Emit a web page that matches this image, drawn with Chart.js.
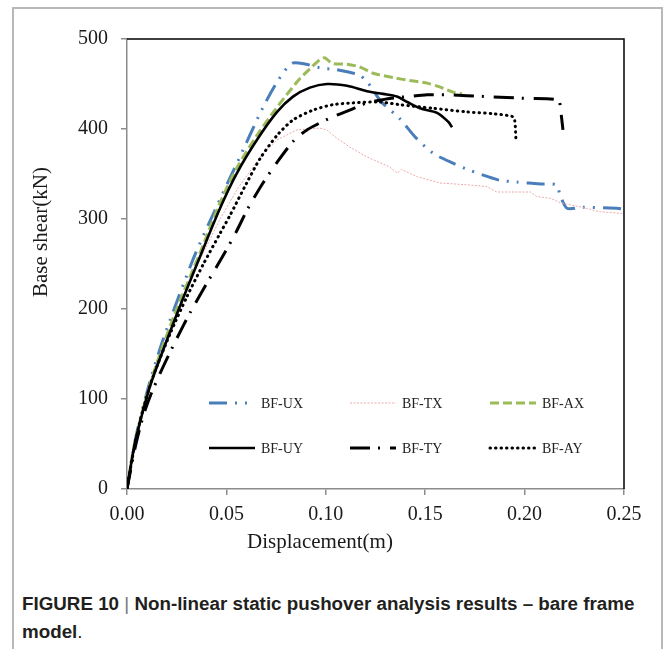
<!DOCTYPE html>
<html>
<head>
<meta charset="utf-8">
<script src="https://cdn.jsdelivr.net/npm/chart.js@4.4.1/dist/chart.umd.min.js"></script>
<style>
  body { margin: 0; background: #fff; }
  #frame { position: absolute; left: 12px; top: 7px; width: 651px; height: 700px; box-sizing: border-box; border: 2px solid #b8b8b8; }
  #chart { position: absolute; left: 0; top: 0; }
  #caption { position: absolute; left: 22px; top: 590px; font: bold 18.8px "Liberation Sans", Arial, sans-serif; color: #231f20; line-height: 28px; white-space: nowrap; }
  #caption .thin { font-weight: normal; color: #777; }
  #caption .reg { font-weight: normal; }
</style>
</head>
<body>
<div id="frame"></div>
<canvas id="chart" width="665" height="560"></canvas>
<div id="caption">FIGURE 10 <span class="thin">|</span> Non-linear static pushover analysis results – bare frame<br>model<span class="reg">.</span></div>
<script>
// Pushover curves: displacement (m) vs base shear (kN)
var seriesNames = ['BF-UX', 'BF-TX', 'BF-AX', 'BF-UY', 'BF-TY', 'BF-AY'];

var uxDisp  = [0, 0.004, 0.0107, 0.0183, 0.0332, 0.0443, 0.0553, 0.0684, 0.076, 0.083, 0.09, 0.097, 0.105, 0.112, 0.117, 0.121, 0.128, 0.137, 0.145, 0.154, 0.164, 0.1725, 0.1815, 0.1876, 0.196, 0.208, 0.216, 0.2178, 0.2213, 0.229, 0.2465, 0.25];
var uxShear = [0, 53, 113, 167, 255, 310, 362, 424, 454, 473, 472, 468, 466, 463, 460, 452, 430, 412, 391, 373, 362, 354, 347, 343, 341, 339, 338, 327, 312, 313, 312, 311];

var txDisp  = [0, 0.004, 0.0107, 0.0183, 0.0267, 0.0367, 0.0468, 0.056, 0.0684, 0.0755, 0.0855, 0.097, 0.1006, 0.1036, 0.112, 0.1207, 0.132, 0.136, 0.138, 0.146, 0.1575, 0.171, 0.181, 0.186, 0.203, 0.206, 0.213, 0.218, 0.229, 0.238, 0.2495];
var txShear = [0, 50, 106, 158, 205, 255, 300, 335, 373, 388, 399, 401, 399, 393, 380, 369, 358, 351, 355, 347, 340, 338, 336, 330, 330, 325, 323, 318, 313, 308, 306];

var axDisp  = [0, 0.004, 0.0107, 0.0166, 0.025, 0.0367, 0.0468, 0.0553, 0.0654, 0.0744, 0.0803, 0.087, 0.093, 0.097, 0.0996, 0.1031, 0.1107, 0.117, 0.1237, 0.134, 0.142, 0.151, 0.157, 0.164, 0.1685];
var axShear = [0, 53, 110, 150, 200, 262, 318, 357, 393, 421, 438, 456, 469, 477, 479, 473, 472, 469, 462, 457, 454, 451, 447, 441, 439];

var uyDisp  = [0, 0.004, 0.0107, 0.0149, 0.0252, 0.0367, 0.0468, 0.0553, 0.0654, 0.0755, 0.0835, 0.092, 0.1006, 0.1107, 0.1207, 0.1288, 0.1358, 0.141, 0.1474, 0.156, 0.1616, 0.1635];
var uyShear = [0, 51, 108, 135, 195, 258, 312, 351, 388, 419, 436, 446, 450, 448, 442, 439, 436, 430, 423, 418, 408, 402];

var tyDisp  = [0, 0.004, 0.008, 0.012, 0.018, 0.025, 0.032, 0.040, 0.048, 0.055, 0.0609, 0.0684, 0.0755, 0.0835, 0.0905, 0.102, 0.112, 0.1207, 0.127, 0.132, 0.141, 0.151, 0.161, 0.181, 0.201, 0.217, 0.218, 0.2193];
var tyShear = [0, 45, 80, 105, 135, 167, 197, 228, 258, 286, 312, 340, 363, 386, 399, 412, 421, 429, 432, 434, 436, 438, 438, 436, 434, 432, 423, 399];

var ayDisp  = [0, 0.004, 0.008, 0.0131, 0.0216, 0.0302, 0.0382, 0.0468, 0.0518, 0.0602, 0.0669, 0.0755, 0.0835, 0.0936, 0.1036, 0.1137, 0.127, 0.1373, 0.154, 0.171, 0.184, 0.1937, 0.195, 0.1957];
var ayShear = [0, 50, 88, 125, 172, 214, 249, 284, 304, 340, 367, 393, 410, 421, 427, 429, 430, 427, 423, 419, 417, 414, 410, 386];

var xTicks = [0, 0.05, 0.10, 0.15, 0.20, 0.25];
var yTicks = [0, 100, 200, 300, 400, 500];

function pts(xs, ys) {
  return xs.map(function (x, i) { return { x: x, y: ys[i] }; });
}

var styles = [
  { color: '#4a7ebb', width: 3,   dash: [18, 8, 2, 8, 2, 8], cap: 'butt',  tension: 0.25 },
  { color: '#eba9a9', width: 1,   dash: [2, 1.5],            cap: 'butt',  tension: 0 },
  { color: '#9bbb59', width: 3,   dash: [9, 4],              cap: 'butt',  tension: 0.25 },
  { color: '#000000', width: 2.6, dash: [],                  cap: 'butt',  tension: 0.3 },
  { color: '#000000', width: 3,   dash: [20, 8, 2, 10],      cap: 'butt',  tension: 0.25 },
  { color: '#000000', width: 3,   dash: [0.5, 5],            cap: 'round', tension: 0.25 }
];

var curves = [pts(uxDisp, uxShear), pts(txDisp, txShear), pts(axDisp, axShear),
              pts(uyDisp, uyShear), pts(tyDisp, tyShear), pts(ayDisp, ayShear)];

var datasets = curves.map(function (data, i) {
  var s = styles[i];
  return {
    label: seriesNames[i],
    data: data,
    showLine: true,
    borderColor: s.color,
    borderWidth: s.width,
    borderDash: s.dash,
    borderCapStyle: s.cap,
    tension: s.tension,
    pointRadius: 0,
    fill: false,
    order: 5 - i
  };
});

var serif = '"Liberation Serif", "Times New Roman", serif';

// plot frame, axis titles and the in-plot legend
var decorations = {
  id: 'decorations',
  afterDraw: function (chart) {
    var ctx = chart.ctx, a = chart.chartArea;
    ctx.save();
    ctx.strokeStyle = '#000';
    ctx.lineWidth = 1.5;
    ctx.beginPath();
    ctx.moveTo(a.left, a.top);
    ctx.lineTo(a.right, a.top);
    ctx.lineTo(a.right, a.bottom);
    ctx.stroke();

    ctx.fillStyle = '#1a1a1a';
    ctx.font = '21px ' + serif;
    ctx.textAlign = 'center';
    ctx.textBaseline = 'alphabetic';
    ctx.fillText('Displacement(m)', 320, 548);
    ctx.save();
    ctx.translate(47, 232);
    ctx.rotate(-Math.PI / 2);
    ctx.fillText('Base shear(kN)', 0, 0);
    ctx.restore();

    // legend: 3 columns x 2 rows
    var cols = [209, 350, 490], rows = [403, 448];
    ctx.font = '14px ' + serif;
    ctx.textAlign = 'left';
    ctx.textBaseline = 'middle';
    chart.data.datasets.forEach(function (ds, i) {
      var x = cols[i % 3], y = rows[Math.floor(i / 3)];
      ctx.save();
      ctx.strokeStyle = ds.borderColor;
      ctx.lineWidth = ds.borderWidth;
      ctx.setLineDash(ds.borderDash);
      ctx.lineCap = ds.borderCapStyle;
      ctx.beginPath();
      ctx.moveTo(x, y);
      ctx.lineTo(x + 46, y);
      ctx.stroke();
      ctx.restore();
      ctx.fillStyle = '#222';
      ctx.fillText(ds.label, x + 52, y + 1);
    });
    ctx.restore();
  }
};

var ctx = document.getElementById('chart').getContext('2d');
var pushoverChart = new Chart(ctx, {
  type: 'scatter',
  data: { datasets: datasets },
  options: {
    responsive: false,
    animation: false,
    devicePixelRatio: 1,
    layout: { padding: { top: 39, right: 41, left: 0, bottom: 0 } },
    plugins: { legend: { display: false }, tooltip: { enabled: false } },
    scales: {
      x: {
        type: 'linear',
        min: 0,
        max: 0.25,
        afterBuildTicks: function (scale) { scale.ticks = xTicks.map(function (v) { return { value: v }; }); },
        afterFit: function (scale) { scale.height = 71; },
        ticks: {
          callback: function (v) { return v.toFixed(2); },
          font: { family: serif, size: 20 },
          color: '#1a1a1a',
          padding: 8
        },
        grid: { drawOnChartArea: false, color: '#8c8c8c', tickLength: 6, lineWidth: 1.5 },
        border: { color: '#8c8c8c', width: 1.5 }
      },
      y: {
        min: 0,
        max: 500,
        afterBuildTicks: function (scale) { scale.ticks = yTicks.map(function (v) { return { value: v }; }); },
        afterFit: function (scale) { scale.width = 127; },
        ticks: {
          font: { family: serif, size: 20 },
          color: '#1a1a1a',
          padding: 13
        },
        grid: { drawOnChartArea: false, color: '#8c8c8c', tickLength: 6, lineWidth: 1.5 },
        border: { color: '#8c8c8c', width: 1.5 }
      }
    }
  },
  plugins: [decorations]
});
</script>
</body>
</html>
